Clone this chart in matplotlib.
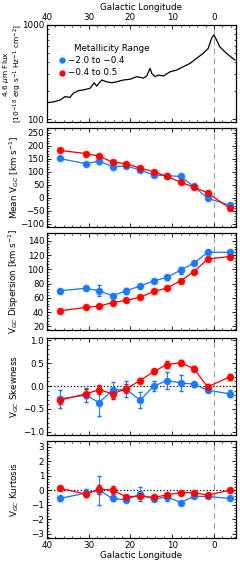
import matplotlib
matplotlib.use('Agg')
import matplotlib.pyplot as plt
from matplotlib.ticker import MultipleLocator, AutoMinorLocator, NullFormatter
import numpy as np

# 4.6 micron flux profile along the plane
flux_l = [40.1, 38.5, 36.9, 35.7, 34.5, 33.7, 32.5, 31.3, 29.7, 28.7, 28.1, 26.9, 25.7,
          24.5, 23.3, 21.7, 20.1, 18.5, 17.7, 16.9, 16.1, 15.3, 14.9, 14.1, 13.3, 12.1,
          10.5, 8.9, 7.35, 5.75, 4.15, 2.55, 1.35, 0.55, 0.0, -0.65, -1.4, -3.0, -5.0]
flux_v = [149, 152, 159, 173, 170, 188, 200, 204, 212, 243, 224, 260, 249,
          243, 249, 260, 265, 282, 278, 272, 287, 346, 306, 282, 294, 287,
          318, 332, 360, 390, 442, 500, 565, 722, 783, 692, 588, 500, 425]

# field longitudes
glon = [37.0, 30.7, 27.5, 24.3, 21.0, 17.7, 14.4, 11.2, 8.0, 4.8, 1.5, -3.8]

# metal-poor (-2.0 to -0.4)
mean_mp = [151, 131, 141, 120, 122, 107, 87, 85, 82, 44, -2, -28]
mean_mp_err = [3, 3, 10, 3, 3, 3, 3, 3, 4, 3, 3, 4]
disp_mp = [70, 73.5, 70, 63, 70, 76.6, 84, 88.7, 99, 108.7, 124, 124]
disp_mp_err = [3, 2, 8, 3, 4, 3, 3, 3, 5, 3, 3, 3]
skew_mp = [-0.28, -0.2, -0.36, -0.09, -0.07, -0.31, 0.0, 0.12, 0.07, 0.04, -0.09, -0.17]
skew_mp_err = [0.2, 0.15, 0.3, 0.18, 0.18, 0.18, 0.1, 0.18, 0.18, 0.05, 0.05, 0.08]
kurt_mp = [-0.57, -0.2, 0.0, -0.57, -0.66, -0.27, -0.62, -0.46, -0.85, -0.43, -0.43, -0.57]
kurt_mp_err = [0.15, 0.3, 1.0, 0.15, 0.15, 0.5, 0.15, 0.3, 0.12, 0.1, 0.1, 0.12]

# metal-rich (-0.4 to 0.5)
mean_mr = [182, 170, 160, 137, 131, 114, 100, 82, 60, 41, 19, -40]
mean_mr_err = [2, 2, 3, 2, 2, 2, 2, 2, 2, 2, 2, 3]
disp_mr = [41.8, 46.7, 48.5, 53.4, 56.5, 61, 69, 74, 84, 96.7, 114.5, 118]
disp_mr_err = [2, 2, 2, 2, 2, 2, 2, 2, 2, 2, 2, 3]
skew_mr = [-0.31, -0.17, -0.08, -0.17, -0.06, 0.12, 0.32, 0.47, 0.51, 0.38, -0.02, 0.2]
skew_mr_err = [0.08, 0.1, 0.1, 0.12, 0.1, 0.05, 0.05, 0.07, 0.05, 0.05, 0.06, 0.06]
kurt_mr = [0.14, -0.27, 0.07, 0.02, -0.46, -0.41, -0.5, -0.32, -0.16, -0.16, -0.34, 0.0]
kurt_mr_err = [0.1, 0.12, 0.3, 0.25, 0.12, 0.12, 0.1, 0.1, 0.08, 0.08, 0.08, 0.1]

blue = '#1a78ff'
red = '#ff0000'
fs = 6.3

plt.rcParams['font.family'] = 'DejaVu Sans'
plt.rcParams['font.size'] = fs

fig = plt.figure(figsize=(2.4, 5.71), dpi=100)

# panel boxes in pixels (top, bottom)
boxes = [(25, 122), (128, 227), (233, 330), (338, 435), (441, 538)]
axes = []
for top, bot in boxes:
    ax = fig.add_axes([47 / 240, 1 - bot / 571, 189 / 240, (bot - top) / 571])
    axes.append(ax)


def style(ax):
    ax.set_xlim(40, -5.3)
    ax.xaxis.set_major_locator(MultipleLocator(10))
    ax.xaxis.set_minor_locator(MultipleLocator(2))
    ax.tick_params(which='both', direction='in', top=True, right=True, labelsize=fs, pad=2)
    ax.tick_params(which='major', length=3, width=0.6)
    ax.tick_params(which='minor', length=1.5, width=0.5)
    for s in ax.spines.values():
        s.set_linewidth(0.9)
    ax.axvline(0, color='#999999', ls=(0, (6, 4)), lw=0.7, zorder=0)


# flux panel
ax = axes[0]
style(ax)
ax.set_yscale('log')
ax.set_ylim(93, 1000)
ax.plot(flux_l, flux_v, color='k', lw=0.9)
ax.set_yticks([100, 1000])
ax.set_yticklabels(['100', '1000'])
ax.yaxis.set_minor_formatter(NullFormatter())
ax.xaxis.set_label_position('top')
ax.tick_params(labelbottom=False, labeltop=True)
ax.set_xlabel('Galactic Longitude', fontsize=fs, labelpad=2)
ax.set_ylabel('4.6 $\\mu$m Flux\n[10$^{-18}$ erg s$^{-1}$ Hz$^{-1}$ cm$^{-2}$]',
              fontsize=5.4, linespacing=1.1)
ax.text(33.5, 560, 'Metallicity Range', fontsize=fs, ha='left', va='center')
ax.plot([36.5], [420], 'o', color=blue, ms=3.5)
ax.text(35, 420, '\u22122.0 to \u22120.4', fontsize=fs, ha='left', va='center')
ax.plot([36.5], [310], 'o', color=red, ms=3.5)
ax.text(35, 310, '\u22120.4 to 0.5', fontsize=fs, ha='left', va='center')

panels = [
    (mean_mp, mean_mp_err, mean_mr, mean_mr_err, (-112, 268), 50, 'Mean V$_{GC}$ [km s$^{-1}$]'),
    (disp_mp, disp_mp_err, disp_mr, disp_mr_err, (15, 151), 20, 'V$_{GC}$ Dispersion [km s$^{-1}$]'),
    (skew_mp, skew_mp_err, skew_mr, skew_mr_err, (-1.07, 1.05), 0.5, 'V$_{GC}$ Skewness'),
    (kurt_mp, kurt_mp_err, kurt_mr, kurt_mr_err, (-3.3, 3.4), 1, 'V$_{GC}$ Kurtosis'),
]

for i, (mp, mpe, mr, mre, ylim, step, lab) in enumerate(panels):
    ax = axes[i + 1]
    style(ax)
    ax.set_ylim(*ylim)
    ax.yaxis.set_major_locator(MultipleLocator(step))
    ax.yaxis.set_minor_locator(AutoMinorLocator(5))
    if i >= 2:
        ax.axhline(0, color='k', ls=':', lw=0.9, zorder=0)
    # faint duplicates underneath
    ax.errorbar(glon, mp, yerr=mpe, color=blue, alpha=0.35, marker='o', ms=5, mfc='none',
                ls=':', lw=0.8, capsize=1.5, elinewidth=0.6)
    ax.errorbar(glon, mr, yerr=mre, color=red, alpha=0.35, marker='o', ms=5, mfc='none',
                ls=':', lw=0.8, capsize=1.5, elinewidth=0.6)
    ax.errorbar(glon, mp, yerr=mpe, color=blue, marker='o', ms=5, mec='none',
                lw=0.9, capsize=1.5, elinewidth=0.7)
    ax.errorbar(glon, mr, yerr=mre, color=red, marker='o', ms=5, mec='none',
                lw=0.9, capsize=1.5, elinewidth=0.7)
    ax.set_ylabel(lab, fontsize=fs)
    if i < 3:
        ax.tick_params(labelbottom=False)
    else:
        ax.set_xlabel('Galactic Longitude', fontsize=fs, labelpad=1)

for ax in axes:
    ax.yaxis.set_label_coords(-0.135, 0.5)
axes[0].yaxis.set_label_coords(-0.12, 0.5)

fig.savefig('out.png', dpi=100)
